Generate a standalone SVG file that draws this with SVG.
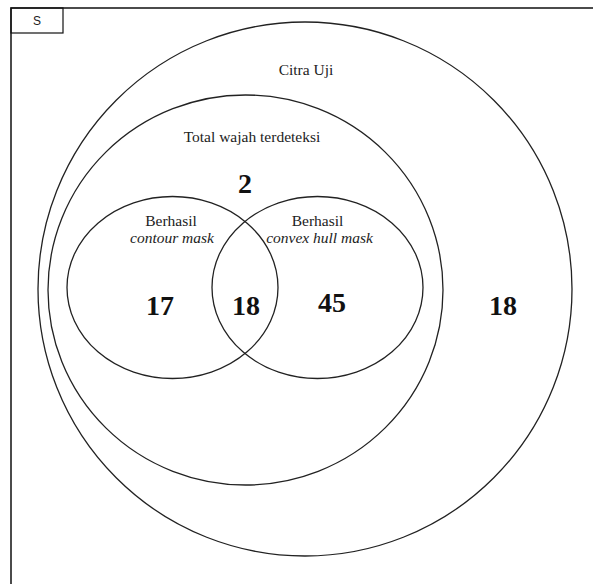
<svg xmlns="http://www.w3.org/2000/svg" width="593" height="584" viewBox="0 0 593 584">
<style>
.set{fill:none;stroke:#222;stroke-width:1.3}
.lbl{font-family:"Liberation Serif",serif;font-size:15.5px;fill:#222;text-anchor:middle}
.it{font-style:italic}
.num{font-family:"Liberation Serif",serif;font-size:28px;font-weight:bold;fill:#111;text-anchor:middle}
</style>
<rect x="0" y="0" width="593" height="584" fill="#fff"/>
<g id="frame">
<rect x="11" y="8" width="600" height="600" fill="none" stroke="#111" stroke-width="1.5"/>
<rect x="11" y="8" width="52" height="25" fill="none" stroke="#111" stroke-width="1.2"/>
<text x="37" y="25" style="font-family:'Liberation Sans',sans-serif;font-size:12px;fill:#222" text-anchor="middle">S</text>
</g>
<g id="citra-uji">
<circle class="set" cx="305" cy="289" r="267"/>
<text class="lbl" x="306" y="75">Citra Uji</text>
<text class="num" x="503" y="315">18</text>
</g>
<g id="total-wajah">
<ellipse class="set" cx="245.5" cy="290" rx="197.5" ry="195"/>
<text class="lbl" x="252" y="142">Total wajah terdeteksi</text>
<text class="num" x="245" y="193">2</text>
</g>
<g id="contour-mask">
<ellipse class="set" cx="172.5" cy="287.5" rx="105.5" ry="91"/>
<text class="lbl" x="171" y="226">Berhasil</text>
<text class="lbl it" x="172" y="243">contour mask</text>
<text class="num" x="160" y="315">17</text>
</g>
<g id="convex-hull-mask">
<ellipse class="set" cx="317.5" cy="287.5" rx="105.5" ry="91"/>
<text class="lbl" x="317.5" y="226">Berhasil</text>
<text class="lbl it" x="319.5" y="243">convex hull mask</text>
<text class="num" x="332" y="312">45</text>
</g>
<g id="intersection">
<text class="num" x="246" y="315">18</text>
</g>
</svg>
